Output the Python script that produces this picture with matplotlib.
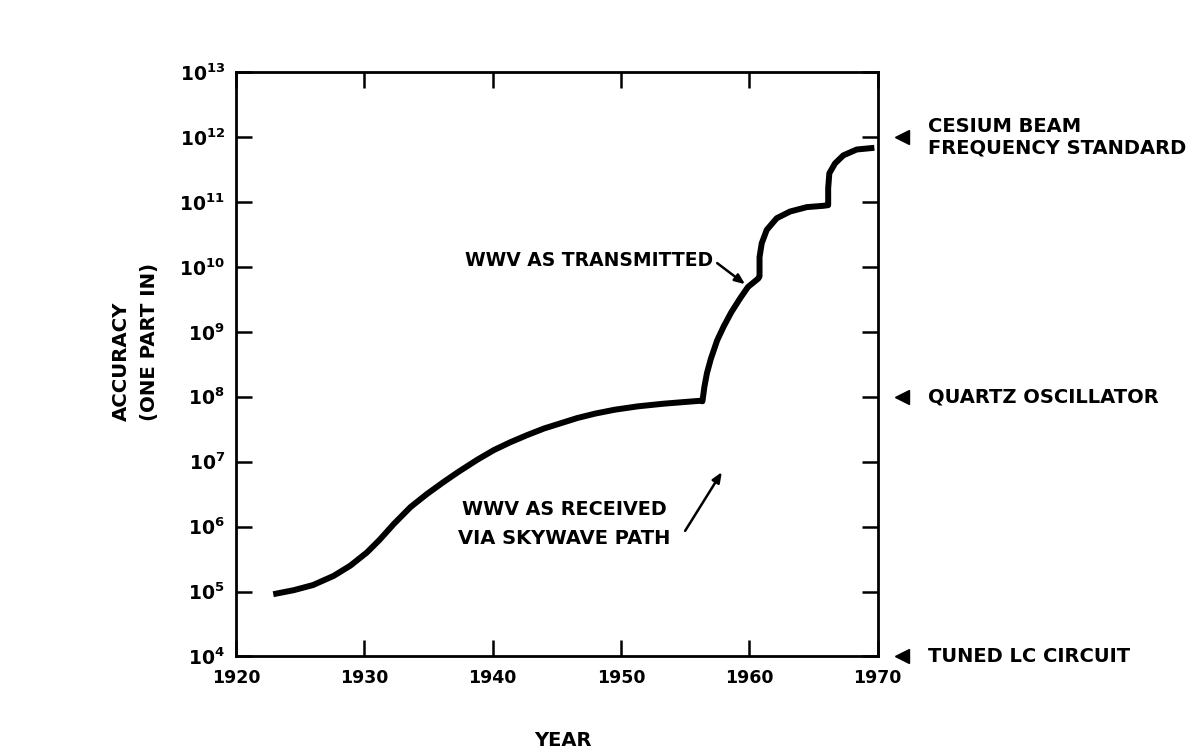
import numpy as np
import matplotlib
matplotlib.use('Agg')
import matplotlib.pyplot as plt
import matplotlib.transforms as mtransforms

plt.rcParams['font.family'] = ['DejaVu Sans']
plt.rcParams['font.weight'] = 'bold'
plt.rcParams['mathtext.fontset'] = 'custom'
plt.rcParams['mathtext.rm'] = 'DejaVu Sans:bold'
plt.rcParams['mathtext.bf'] = 'DejaVu Sans:bold'

# WWV accuracy curve (year, accuracy as one part in ...)
years = [1922.9, 1924.5, 1926.0, 1927.6, 1928.9, 1930.2, 1931.2, 1932.3,
         1933.6, 1934.9, 1936.2, 1937.3, 1938.8, 1940.1, 1941.4, 1942.7,
         1944.0, 1945.3, 1946.6, 1948.0, 1949.5, 1951.3, 1953.3, 1955.0,
         1956.3,
         1956.35, 1956.5, 1956.7, 1957.0, 1957.5, 1958.0, 1958.6, 1959.3,
         1959.9, 1960.7, 1960.8,
         1960.8, 1960.97, 1961.36, 1962.14, 1963.18, 1964.48, 1965.78, 1966.15,
         1966.15, 1966.24, 1966.68, 1967.33, 1968.37, 1969.41, 1969.75]
accuracy = [9.1e4, 1.05e5, 1.26e5, 1.74e5, 2.5e5, 4.0e5, 6.3e5, 1.1e6,
            2.0e6, 3.2e6, 4.9e6, 6.9e6, 1.07e7, 1.51e7, 2.0e7, 2.57e7,
            3.24e7, 3.9e7, 4.7e7, 5.5e7, 6.3e7, 7.1e7, 7.8e7, 8.3e7,
            8.7e7,
            8.5e7, 1.41e8, 2.3e8, 3.8e8, 7.4e8, 1.2e9, 2.0e9, 3.3e9,
            4.9e9, 6.6e9, 7.1e9,
            1.41e10, 2.3e10, 3.7e10, 5.6e10, 7.1e10, 8.3e10, 8.7e10, 8.9e10,
            1.62e11, 2.75e11, 3.9e11, 5.2e11, 6.4e11, 6.7e11, 6.8e11]

year_ticks = [1920, 1930, 1940, 1950, 1960, 1970]
exp_ticks = [4, 5, 6, 7, 8, 9, 10, 11, 12, 13]

side_levels = [1e12, 1e12, 1e8, 1e4]
side_labels = ['CESIUM BEAM', 'FREQUENCY STANDARD', 'QUARTZ OSCILLATOR', 'TUNED LC CIRCUIT']
side_shift = [10, -11, 0, 0]

fig = plt.figure(figsize=(11.88, 7.49), dpi=100)
ax = fig.add_axes([0.1987, 0.1235, 0.540, 0.7804])

ax.plot(years, accuracy, color='black', lw=4.3, solid_capstyle='butt',
        solid_joinstyle='round')

ax.set_yscale('log')
ax.set_xlim(1920, 1970)
ax.set_ylim(1e4, 1e13)
ax.set_xticks(year_ticks)
ax.set_xticklabels([str(y) for y in year_ticks], fontsize=12.5, fontweight='bold')
ax.set_yticks([10.0 ** e for e in exp_ticks])
ax.set_yticklabels([r'$10^{%d}$' % e for e in exp_ticks], fontsize=13.5)
ax.minorticks_off()
ax.tick_params(axis='both', direction='in', length=11.5, width=1.8,
               top=True, right=True, color='black')
ax.tick_params(axis='x', pad=9)
ax.tick_params(axis='y', pad=8)
for sp in ax.spines.values():
    sp.set_linewidth(2.0)

# curve annotations
ax.text(1957.2, 1.26e10, 'WWV AS TRANSMITTED', ha='right', va='center',
        fontsize=13.5, fontweight='bold')
ax.annotate('', xy=(1959.67, 5.4e9), xytext=(1957.5, 1.14e10),
            arrowprops=dict(arrowstyle='-|>,head_length=0.6,head_width=0.25',
                            color='black', lw=1.8, shrinkA=0, shrinkB=0))
ax.text(1945.6, 1.86e6, 'WWV AS RECEIVED', ha='center', va='center',
        fontsize=13.8, fontweight='bold')
ax.text(1945.6, 6.6e5, 'VIA SKYWAVE PATH', ha='center', va='center',
        fontsize=14, fontweight='bold')
ax.annotate('', xy=(1957.86, 6.9e6), xytext=(1955.0, 8.6e5),
            arrowprops=dict(arrowstyle='-|>,head_length=0.6,head_width=0.25',
                            color='black', lw=1.8, shrinkA=0, shrinkB=0))

# reference levels on the right
trans = mtransforms.blended_transform_factory(ax.transAxes, ax.transData)
mark_trans = trans + mtransforms.ScaledTranslation(24 / 100, 0, fig.dpi_scale_trans)
for lev in sorted(set(side_levels)):
    ax.plot([1], [lev], marker='<', ms=10, color='black', transform=mark_trans,
            clip_on=False)
for lab, lev, dy in zip(side_labels, side_levels, side_shift):
    ax.annotate(lab, xy=(1, lev), xycoords=trans, xytext=(50, dy),
                textcoords='offset pixels', ha='left', va='center',
                fontsize=14, fontweight='bold', annotation_clip=False)

fig.text(563 / 1188, 1 - 741 / 749, 'YEAR', ha='center', va='center',
         fontsize=14, fontweight='bold')
fig.text(121 / 1188, 1 - 421 / 749, 'ACCURACY', rotation=90, ha='center',
         va='bottom', fontsize=14.2, fontweight='bold')
fig.text(149 / 1188, 1 - 421 / 749, '(ONE PART IN)', rotation=90, ha='center',
         va='bottom', fontsize=14.2, fontweight='bold')

fig.savefig('out.png', dpi=100)
